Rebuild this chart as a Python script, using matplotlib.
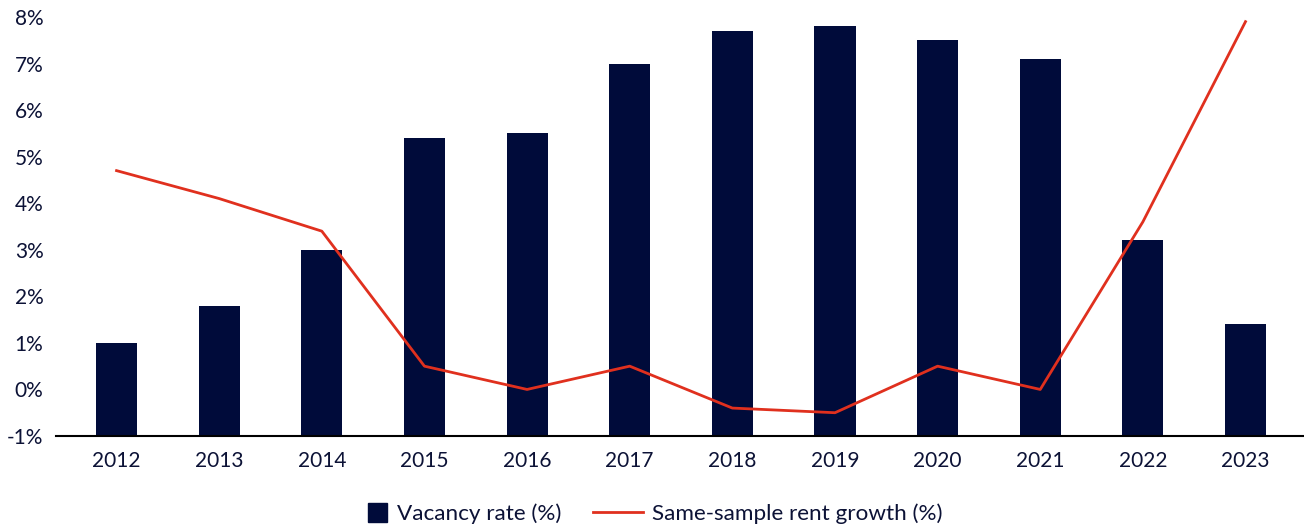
import matplotlib
matplotlib.use("Agg")
import matplotlib.pyplot as plt
from matplotlib.ticker import FuncFormatter
from matplotlib.legend_handler import HandlerPatch
from matplotlib.patches import Rectangle
from matplotlib.lines import Line2D

years = ["2012", "2013", "2014", "2015", "2016", "2017", "2018", "2019", "2020", "2021", "2022", "2023"]
vacancy = [1.0, 1.8, 3.0, 5.4, 5.5, 7.0, 7.7, 7.8, 7.5, 7.1, 3.2, 1.4]
rent_growth = [4.7, 4.1, 3.4, 0.5, 0.0, 0.5, -0.4, -0.5, 0.5, 0.0, 3.6, 7.9]
yticks = [-1, 0, 1, 2, 3, 4, 5, 6, 7, 8]

navy = "#000b3a"
red = "#e0301e"
text_c = "#0c1236"

plt.rcParams['font.family'] = ['Lato', 'DejaVu Sans']

fig = plt.figure(figsize=(13.04, 5.27), dpi=100)
ax = fig.add_axes([56/1304, 91/527, 1248/1304, 419/527])

x = list(range(len(years)))
bars = ax.bar(x, vacancy, width=0.4, bottom=0, color=navy, zorder=2)
line, = ax.plot(x, rent_growth, color=red, lw=2, zorder=3)

# bars start from the -1 baseline visually
for p in ax.patches:
    p.set_y(-1)
    p.set_height(p.get_height() + 1)

ax.set_ylim(-1, 8)
ax.set_xlim(-0.59, 11.57)
ax.set_yticks(yticks)
ax.yaxis.set_major_formatter(FuncFormatter(lambda v, _: f"{int(v)}%"))
ax.set_xticks(x)
ax.set_xticklabels(years)
ax.tick_params(axis='both', length=0, labelsize=15, colors=text_c)
ax.tick_params(axis='y', pad=9)
ax.tick_params(axis='x', pad=11)
for s in ["top", "right", "left"]:
    ax.spines[s].set_visible(False)
ax.spines["bottom"].set_color("black")
ax.spines["bottom"].set_linewidth(1.5)


def square_patch(legend, orig_handle, xdescent, ydescent, width, height, fontsize):
    s = 13.7
    return Rectangle((-xdescent + width - s - 1, -ydescent + height / 2 - s / 2), s, s)


sq = Rectangle((0, 0), 1, 1, color=navy)
ln = Line2D([], [], color=red, lw=2)
leg = fig.legend([sq, ln], ["Vacancy rate (%)", "Same-sample rent growth (%)"],
                 loc="center left", bbox_to_anchor=(318/1304, 1 - 514/527), ncol=2, frameon=False,
                 fontsize=16.2, handlelength=2.25, columnspacing=1.4, handletextpad=0.36,
                 handler_map={Rectangle: HandlerPatch(patch_func=square_patch)})
for t in leg.get_texts():
    t.set_color(text_c)

fig.savefig("out.png", dpi=100)
